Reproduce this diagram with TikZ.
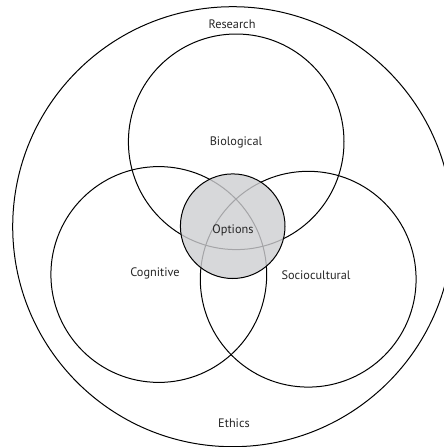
\documentclass[tikz,border=0pt]{standalone}
\usepackage{fontspec}
\setmainfont{PT Sans}
\usetikzlibrary{positioning}
\definecolor{OptionGray}{RGB}{205,206,209}
\tikzset{
  ring/.style={circle,draw=black,line width=1pt,inner sep=0pt},
  tag/.style={font=\fontsize{12.3}{14}\selectfont,text=black!85}
}

\begin{document}
\begin{tikzpicture}[x=1pt,y=-1pt]
  \useasboundingbox (0,0) rectangle (444,447);
  \clip (0,0) rectangle (444,447);
  % the outer ring and the three perspectives
  \node[ring,minimum size=440pt] (outer) at (232.7,226.7) {};
  \node[ring,minimum size=215.6pt] (bio) at (236.2,141.8) {};
  \node[ring,minimum size=215.8pt] (cog) at (158.8,274.5) {};
  \node[ring,minimum size=215.8pt] (soc) at (308.2,279.2) {};
  % shaded centre
  \node[ring,minimum size=104.6pt,fill=OptionGray,fill opacity=0.8,draw opacity=1] (opt) at (232.7,226.2) {};
  % labels
  \node[tag] (research) at (232,24) {Research};
  \node[tag] (biological) at (236,142) {Biological};
  \node[tag] (options) at (233,230) {Options};
  \node[tag] (cognitive) at (155,273) {Cognitive};
  \node[tag] (sociocultural) at (316,275) {Sociocultural};
  \node[tag] (ethics) at (234,423) {Ethics};
\end{tikzpicture}
\end{document}
